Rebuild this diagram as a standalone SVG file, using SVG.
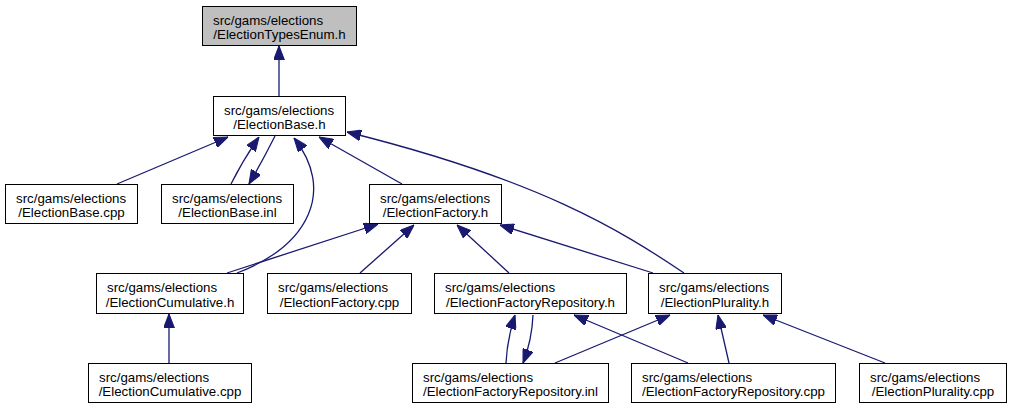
<svg xmlns="http://www.w3.org/2000/svg" width="1011" height="409" viewBox="0 0 1011 409">
<style>
.n rect{fill:#fff;stroke:#000;stroke-width:1}
.n text{font-family:"Liberation Sans",Arial,sans-serif;font-size:13.3px;fill:#000}
.m{text-anchor:middle}
#edges path{fill:none;stroke:#191970;stroke-width:1.3;marker-end:url(#ah)}
</style>
<defs>
<marker id="ah" markerUnits="userSpaceOnUse" markerWidth="14" markerHeight="11" viewBox="0 0 13 10" refX="13" refY="5" orient="auto">
<path d="M0,0 L13,5 L0,10 z" fill="#191970" stroke="#191970" stroke-width="1"/>
</marker>
</defs>
<rect x="0" y="0" width="1011" height="409" fill="#fff"/>
<g id="edges">
<path d="M279,96 L279,46"/>
<path d="M117,184 L228,137"/>
<path d="M231,184 Q243,160 259,137"/>
<path d="M275,136 Q263,160 249,184"/>
<path d="M237,273 C310,245 335,190 294,138"/>
<path d="M402,184 L319,137"/>
<path d="M684,273 C620,230 540,180 347,132"/>
<path d="M227,273 L378,224"/>
<path d="M360,273 L414,225"/>
<path d="M509,273 L457,225"/>
<path d="M653,273 L500,225"/>
<path d="M169,363 L169,314"/>
<path d="M506,363 Q507,340 515,315"/>
<path d="M533,315 Q532,340 523,363"/>
<path d="M555,363 L670,315"/>
<path d="M688,363 L574,315"/>
<path d="M729,363 L718,315"/>
<path d="M885,363 L763,315"/>
</g>
<g id="n1" class="n"><rect x="202.5" y="6.5" width="154" height="39" style="fill:#bfbfbf"/><text x="213" y="24.5">src/gams/elections</text><text class="m" x="279.5" y="39">/ElectionTypesEnum.h</text></g>
<g id="n2" class="n"><rect x="213.5" y="96.5" width="132" height="39"/><text x="224" y="114.5">src/gams/elections</text><text class="m" x="279.5" y="129">/ElectionBase.h</text></g>
<g id="n3" class="n"><rect x="5.5" y="184.5" width="132" height="39"/><text x="16" y="202.5">src/gams/elections</text><text class="m" x="71.5" y="217">/ElectionBase.cpp</text></g>
<g id="n4" class="n"><rect x="161.5" y="184.5" width="132" height="39"/><text x="172" y="202.5">src/gams/elections</text><text class="m" x="227.5" y="217">/ElectionBase.inl</text></g>
<g id="n5" class="n"><rect x="369.5" y="184.5" width="132" height="39"/><text x="380" y="202.5">src/gams/elections</text><text class="m" x="435.5" y="217">/ElectionFactory.h</text></g>
<g id="n6" class="n"><rect x="96.5" y="273.5" width="147" height="40"/><text x="107" y="292">src/gams/elections</text><text class="m" x="170" y="306.5">/ElectionCumulative.h</text></g>
<g id="n7" class="n"><rect x="267.5" y="273.5" width="144" height="40"/><text x="278" y="292">src/gams/elections</text><text class="m" x="339.5" y="306.5">/ElectionFactory.cpp</text></g>
<g id="n8" class="n"><rect x="434.5" y="273.5" width="192" height="40"/><text x="445" y="292">src/gams/elections</text><text class="m" x="530.5" y="306.5">/ElectionFactoryRepository.h</text></g>
<g id="n9" class="n"><rect x="648.5" y="273.5" width="133" height="40"/><text x="659" y="292">src/gams/elections</text><text class="m" x="715" y="306.5">/ElectionPlurality.h</text></g>
<g id="n10" class="n"><rect x="88.5" y="363.5" width="163" height="39"/><text x="99" y="381.5">src/gams/elections</text><text class="m" x="170" y="396">/ElectionCumulative.cpp</text></g>
<g id="n11" class="n"><rect x="412.5" y="363.5" width="196" height="39"/><text x="423" y="381.5">src/gams/elections</text><text class="m" x="510.5" y="396">/ElectionFactoryRepository.inl</text></g>
<g id="n12" class="n"><rect x="631.5" y="363.5" width="204" height="39"/><text x="642" y="381.5">src/gams/elections</text><text class="m" x="733.5" y="396">/ElectionFactoryRepository.cpp</text></g>
<g id="n13" class="n"><rect x="859.5" y="363.5" width="147" height="39"/><text x="870" y="381.5">src/gams/elections</text><text class="m" x="933" y="396">/ElectionPlurality.cpp</text></g>
</svg>
